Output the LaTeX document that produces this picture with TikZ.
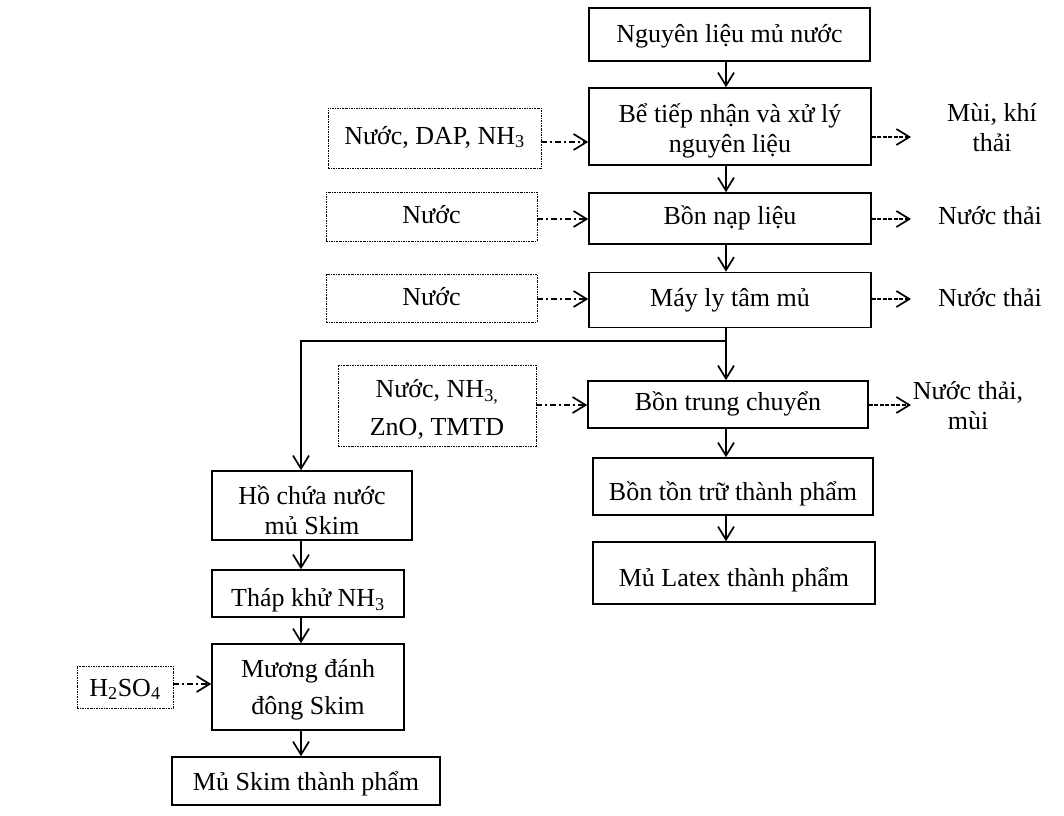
\documentclass[tikz,border=0pt]{standalone}
\usepackage{fontspec}
\setmainfont{Liberation Serif}
\usetikzlibrary{arrows.meta}
\newcommand\dn[2]{\raisebox{-#1}[\height][\depth]{\begin{tabular}{@{}c@{}}#2\end{tabular}}}
\begin{document}
\begin{tikzpicture}[x=1pt,y=-1pt,
  font=\fontsize{26}{30}\selectfont,
  tip/.style={-{Straight Barb[length=13pt,width=16pt,line width=1.7pt]}},
  box/.style={draw, line width=1.6pt, align=center, inner sep=0pt},
  inbox/.style={draw, line width=0.9pt, dash pattern=on 2pt off 1pt on 0.8pt off 1pt, align=center, inner sep=0pt},
  outtxt/.style={align=center, inner sep=0pt},
  flow/.style={tip, line width=1.9pt},
  inflow/.style={tip, line width=1.6pt, dash pattern=on 6pt off 3pt on 2pt off 3pt},
  outflow/.style={tip, line width=1.6pt, dash pattern=on 4pt off 1.5pt}]
\useasboundingbox (0,0) rectangle (1064,815);
% main column
\node[box, minimum width=281, minimum height=53] (n1) at (729.5,34.5) {\dn{2pt}{Nguyên liệu mủ nước}};
\node[box, minimum width=282, minimum height=77] (n2) at (730,126.5) {\dn{5pt}{Bể tiếp nhận và xử lý\\nguyên liệu}};
\node[box, minimum width=282, minimum height=51] (n3) at (730,218.5) {\dn{0pt}{Bồn nạp liệu}};
\node[box, minimum width=282, minimum height=55] (n4) at (730,300) {\dn{0pt}{Máy ly tâm mủ}};
\node[box, minimum width=280, minimum height=47] (n5) at (728,404.5) {\dn{0pt}{Bồn trung chuyển}};
\node[box, minimum width=280, minimum height=57] (n6) at (733,486.5) {\dn{8pt}{Bồn tồn trữ thành phẩm}};
\node[box, minimum width=282, minimum height=62] (n7) at (734,573) {\dn{7pt}{Mủ Latex thành phẩm}};
% left column
\node[box, minimum width=200, minimum height=69] (l1) at (312,505.5) {\dn{8pt}{Hồ chứa nước\\mủ Skim}};
\node[box, minimum width=192, minimum height=47] (l2) at (308,593.5) {\dn{7pt}{Tháp khử NH\textsubscript{3}}};
\node[box, minimum width=192, minimum height=86] (l3) at (308,687) {\dn{3pt}{Mương đánh\\[7pt]đông Skim}};
\node[box, minimum width=268, minimum height=48] (l4) at (306,781) {\dn{3pt}{Mủ Skim thành phẩm}};
% inputs
\node[inbox, minimum width=213, minimum height=60] (i1) at (434.5,138) {\dn{0pt}{Nước, DAP, NH\textsubscript{3}}};
\node[inbox, minimum width=211, minimum height=49] (i2) at (431.5,216.5) {\dn{1pt}{Nước}};
\node[inbox, minimum width=211, minimum height=48] (i3) at (431.5,298) {\dn{1pt}{Nước}};
\node[inbox, minimum width=198, minimum height=81] (i4) at (437,405.5) {\dn{5pt}{Nước, NH\textsubscript{3,}\\[8pt]ZnO, TMTD}};
\node[inbox, minimum width=96, minimum height=42] (i5) at (125,687) {\dn{3pt}{H\textsubscript{2}SO\textsubscript{4}}};
% outputs
\node[outtxt] (o1) at (992,128) {Mùi, khí\\thải};
\node[outtxt] (o2) at (990,216) {Nước thải};
\node[outtxt] (o3) at (990,298) {Nước thải};
\node[outtxt] (o4) at (968,406) {Nước thải,\\mùi};
% helper coordinates
\coordinate (ax) at (726,0);
\coordinate (bx) at (301,0);
\coordinate (br) at (726,341);
\coordinate (ex) at (911,0);
% main flow
\draw[flow] (n1.south -| ax) -- (n2.north -| ax);
\draw[flow] (n2.south -| ax) -- (n3.north -| ax);
\draw[flow] (n3.south -| ax) -- (n4.north -| ax);
\draw[flow] (n4.south -| ax) -- (n5.north -| ax);
\draw[flow] (n5.south -| ax) -- (n6.north -| ax);
\draw[flow] (n6.south -| ax) -- (n7.north -| ax);
\draw[flow] (br) -| (l1.north -| bx);
\draw[flow] (l1.south -| bx) -- (l2.north -| bx);
\draw[flow] (l2.south -| bx) -- (l3.north -| bx);
\draw[flow] (l3.south -| bx) -- (l4.north -| bx);
% inputs
\coordinate (y1) at (0,142);
\coordinate (y2) at (0,219);
\coordinate (y3) at (0,299);
\coordinate (y4) at (0,405);
\coordinate (y5) at (0,684);
\draw[inflow] (i1.east |- y1) -- (n2.west |- y1);
\draw[inflow] (i2.east |- y2) -- (n3.west |- y2);
\draw[inflow] (i3.east |- y3) -- (n4.west |- y3);
\draw[inflow] (i4.east |- y4) -- (n5.west |- y4);
\draw[inflow] (i5.east |- y5) -- (l3.west |- y5);
% outputs
\coordinate (z1) at (0,137);
\draw[outflow] (n2.east |- z1) -- (ex |- z1);
\draw[outflow] (n3.east |- y2) -- (ex |- y2);
\draw[outflow] (n4.east |- y3) -- (ex |- y3);
\draw[outflow] (n5.east |- y4) -- (ex |- y4);
\end{tikzpicture}
\end{document}
